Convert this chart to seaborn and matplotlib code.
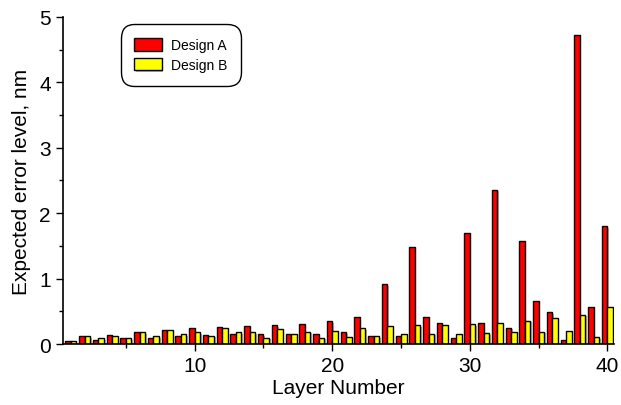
import matplotlib
matplotlib.use('Agg')
import matplotlib.pyplot as plt
import matplotlib.patheffects as pe
from matplotlib.ticker import MultipleLocator
import pandas as pd
import seaborn as sns

layers = list(range(1, 41))
design_a = [0.04, 0.12, 0.07, 0.14, 0.09, 0.18, 0.10, 0.21, 0.13, 0.24,
            0.14, 0.26, 0.15, 0.27, 0.15, 0.29, 0.16, 0.30, 0.16, 0.35,
            0.18, 0.42, 0.12, 0.92, 0.12, 1.49, 0.41, 0.32, 0.10, 1.70,
            0.33, 2.36, 0.25, 1.57, 0.66, 0.49, 0.07, 4.72, 0.56, 1.80]
design_b = [0.04, 0.12, 0.09, 0.12, 0.09, 0.18, 0.12, 0.21, 0.15, 0.18,
            0.13, 0.25, 0.18, 0.18, 0.10, 0.23, 0.15, 0.19, 0.10, 0.20,
            0.11, 0.24, 0.12, 0.27, 0.15, 0.29, 0.16, 0.29, 0.16, 0.30,
            0.17, 0.32, 0.18, 0.36, 0.19, 0.40, 0.20, 0.45, 0.11, 0.57]

df = pd.DataFrame({
    'layer': layers * 2,
    'value': design_a + design_b,
    'design': ['Design A'] * 40 + ['Design B'] * 40,
})

sns.set_style('ticks', {'axes.edgecolor': 'black', 'text.color': 'black',
                        'axes.labelcolor': 'black', 'xtick.color': 'black',
                        'ytick.color': 'black'})
plt.rcParams['font.family'] = ['Liberation Sans', 'DejaVu Sans']

fig = plt.figure(figsize=(6.21, 4.06), dpi=100)
ax = fig.add_axes([0.101, 0.150, 0.888, 0.806])

sns.barplot(data=df, x='layer', y='value', hue='design', native_scale=True,
            palette={'Design A': '#ff0000', 'Design B': '#ffff00'},
            saturation=1, width=0.8, edgecolor='black', linewidth=1.0, ax=ax)

for p in ax.patches:
    p.set_path_effects([pe.SimplePatchShadow(offset=(1.2, -1.2), shadow_rgbFace='gray', alpha=0.6),
                        pe.Normal()])

ax.set_xlim(0.4, 40.5)
ax.set_ylim(0, 5)
ax.xaxis.set_major_locator(MultipleLocator(10))
ax.xaxis.set_minor_locator(MultipleLocator(5))
ax.yaxis.set_major_locator(MultipleLocator(1))
ax.yaxis.set_minor_locator(MultipleLocator(0.5))
ax.tick_params(which='major', length=5, width=1, labelsize=15, direction='out')
ax.tick_params(which='minor', length=3, width=1, direction='out')
for s in ['top', 'right']:
    ax.spines[s].set_visible(False)
for s in ['left', 'bottom']:
    ax.spines[s].set_linewidth(1.2)

ax.set_xlabel('Layer Number', fontsize=15, labelpad=2)
ax.set_ylabel('Expected error level, nm', fontsize=15, labelpad=6)

leg = ax.legend(loc='upper left', bbox_to_anchor=(0.11, 0.97), fontsize=10,
                frameon=True, fancybox=True, edgecolor='black', framealpha=1,
                handlelength=1.95, handleheight=1.05, handletextpad=0.65,
                borderpad=0.8, labelspacing=0.4, borderaxespad=0)
leg.get_frame().set_linewidth(1.0)
leg.get_frame().set_boxstyle('round', pad=0.2, rounding_size=1.0)

fig.savefig('out.png', dpi=100)
